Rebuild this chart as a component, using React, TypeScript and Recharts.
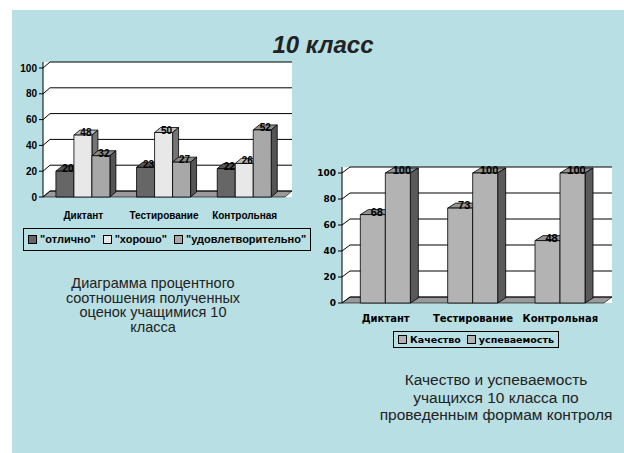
import React from "react";
import {
  BarChart,
  Bar,
  XAxis,
  YAxis,
  CartesianGrid,
  Legend,
  LabelList,
} from "recharts";

const CATEGORIES = ["Диктант", "Тестирование", "Контрольная"];
const EXCELLENT = [20, 23, 22];
const GOOD = [48, 50, 26];
const SATISFACTORY = [32, 27, 52];
const QUALITY = [68, 73, 48];
const PROGRESS = [100, 100, 100];
const Y_TICKS = [0, 20, 40, 60, 80, 100];

const gradesData = CATEGORIES.map((name, i) => ({
  name,
  excellent: EXCELLENT[i],
  good: GOOD[i],
  satisfactory: SATISFACTORY[i],
}));

const qualityData = CATEGORIES.map((name, i) => ({
  name,
  quality: QUALITY[i],
  progress: PROGRESS[i],
}));

const ARIAL = "'Liberation Sans', Arial, sans-serif";
const VERDANA = "'DejaVu Sans', Verdana, sans-serif";

function shade(hex: string, k: number) {
  const n = parseInt(hex.slice(1), 16);
  const r = Math.round(((n >> 16) & 255) * k);
  const g = Math.round(((n >> 8) & 255) * k);
  const b = Math.round((n & 255) * k);
  return `rgb(${r},${g},${b})`;
}

// 3d-ish column: front face, top and right side
function Box3D(props: any) {
  const { x, y, width, height, fill, dx, dy } = props;
  if (height <= 0) return null;
  return (
    <g stroke="#000" strokeWidth={0.8} strokeLinejoin="round">
      <polygon
        points={`${x},${y} ${x + dx},${y - dy} ${x + width + dx},${y - dy} ${x + width},${y}`}
        fill={shade(fill, 0.82)}
      />
      <polygon
        points={`${x + width},${y} ${x + width + dx},${y - dy} ${x + width + dx},${y + height - dy} ${x + width},${y + height}`}
        fill={shade(fill, 0.5)}
      />
      <rect x={x} y={y} width={width} height={height} fill={fill} />
    </g>
  );
}

// grid lines on the back wall plus the floor under the bottom one
function makeWallLine(dx: number, dy: number, top: number, bottom: number) {
  return (p: any) => {
    const { x1, y1, x2 } = p;
    if (y1 < top - 0.5) return <g key={`skip-${p.index}`} />;
    const isFloor = Math.abs(y1 - bottom) < 0.6;
    return (
      <g key={`wall-${p.index}-${y1}`}>
        {isFloor && (
          <polygon
            points={`${x1},${y1} ${x2 - dx},${y1} ${x2},${y1 - dy} ${x1 + dx},${y1 - dy}`}
            fill="#9a9a9a"
            stroke="#000"
            strokeWidth={0.6}
          />
        )}
        <polyline
          points={`${x1},${y1} ${x1 + dx},${y1 - dy} ${x2},${y1 - dy}`}
          fill="none"
          stroke="#000"
          strokeWidth={1}
        />
      </g>
    );
  };
}

function makeValueLabel(dx: number, fontSize: number) {
  return (p: any) => {
    const { x, y, width, value } = p;
    return (
      <text
        x={x + width / 2 + dx / 2}
        y={y + 1}
        textAnchor="middle"
        fontFamily={ARIAL}
        fontWeight="bold"
        fontSize={fontSize}
        fill="#000"
      >
        {value}
      </text>
    );
  };
}

function makeLegend(order: string[], fontFamily: string, fontSize: number, gap: number, padV: number) {
  return (p: any) => {
    const items = (p.payload || [])
      .slice()
      .sort((a: any, b: any) => order.indexOf(a.dataKey) - order.indexOf(b.dataKey));
    return (
      <div
        style={{
          display: "inline-flex",
          alignItems: "center",
          border: "1px solid #000",
          padding: `${padV}px 4px`,
          fontFamily,
          fontSize,
          fontWeight: "bold",
          color: "#000",
          whiteSpace: "nowrap",
          lineHeight: 1,
        }}
      >
        {items.map((e: any, i: number) => (
          <span
            key={i}
            style={{ display: "inline-flex", alignItems: "center", marginLeft: i ? gap : 0 }}
          >
            <span
              style={{
                width: 7,
                height: 7,
                background: e.color,
                border: "1px solid #000",
                marginRight: 3,
              }}
            />
            {e.value}
          </span>
        ))}
      </div>
    );
  };
}

const C1 = { w: 310, h: 210, top: 12, right: 18, left: 3, bottom: 43, yw: 40, xh: 20, dx: 7, dy: 6 };
const C1_BOTTOM = C1.h - C1.bottom - C1.xh;

const C2 = { w: 324, h: 200, top: 12, right: 12, left: 6, bottom: 32, yw: 36, xh: 20, dx: 8, dy: 6 };
const C2_BOTTOM = C2.h - C2.bottom - C2.xh;

function GradesChart() {
  return (
    <BarChart
      width={C1.w}
      height={C1.h}
      data={gradesData}
      margin={{ top: C1.top, right: C1.right, left: C1.left, bottom: C1.bottom }}
      barCategoryGap="16%"
      barGap={0}
    >
      <CartesianGrid
        vertical={false}
        fill="#fff"
        horizontal={makeWallLine(C1.dx, C1.dy, C1.top + C1.dy, C1_BOTTOM)}
      />
      <XAxis
        dataKey="name"
        height={C1.xh}
        axisLine={false}
        tickLine={false}
        tickMargin={9}
        padding={{ right: C1.dx }}
        tick={{ fontFamily: ARIAL, fontSize: 10, fontWeight: "bold", fill: "#000" }}
      />
      <YAxis
        width={C1.yw}
        domain={[0, 100]}
        ticks={Y_TICKS}
        padding={{ top: C1.dy }}
        axisLine={{ stroke: "#000" }}
        tickLine={{ stroke: "#000" }}
        tickSize={4}
        tick={{ fontFamily: ARIAL, fontSize: 10, fontWeight: "bold", fill: "#000" }}
      />
      <Legend
        layout="horizontal"
        verticalAlign="middle"
        align="center"
        wrapperStyle={{ top: 178, left: 23, width: "auto" }}
        content={makeLegend(["excellent", "good", "satisfactory"], ARIAL, 11, 7, 5)}
      />
      <Bar
        dataKey="excellent"
        name={'"отлично"'}
        fill="#666666"
        isAnimationActive={false}
        shape={(p: any) => <Box3D {...p} dx={C1.dx - 1} dy={C1.dy - 1} />}
      >
        <LabelList dataKey="excellent" content={makeValueLabel(C1.dx - 1, 10)} />
      </Bar>
      <Bar
        dataKey="good"
        name={'"хорошо"'}
        fill="#e8e8e8"
        isAnimationActive={false}
        shape={(p: any) => <Box3D {...p} dx={C1.dx - 1} dy={C1.dy - 1} />}
      >
        <LabelList dataKey="good" content={makeValueLabel(C1.dx - 1, 10)} />
      </Bar>
      <Bar
        dataKey="satisfactory"
        name={'"удовлетворительно"'}
        fill="#a8a8a8"
        isAnimationActive={false}
        shape={(p: any) => <Box3D {...p} dx={C1.dx - 1} dy={C1.dy - 1} />}
      >
        <LabelList dataKey="satisfactory" content={makeValueLabel(C1.dx - 1, 10)} />
      </Bar>
    </BarChart>
  );
}

function QualityChart() {
  return (
    <BarChart
      width={C2.w}
      height={C2.h}
      data={qualityData}
      margin={{ top: C2.top, right: C2.right, left: C2.left, bottom: C2.bottom }}
      barCategoryGap="21%"
      barGap={0}
    >
      <CartesianGrid
        vertical={false}
        fill="#fff"
        horizontal={makeWallLine(C2.dx, C2.dy, C2.top + C2.dy, C2_BOTTOM)}
      />
      <XAxis
        dataKey="name"
        height={C2.xh}
        axisLine={false}
        tickLine={false}
        tickMargin={6}
        padding={{ right: C2.dx }}
        tick={{ fontFamily: VERDANA, fontSize: 10, fontWeight: "bold", fill: "#000" }}
      />
      <YAxis
        width={C2.yw}
        domain={[0, 100]}
        ticks={Y_TICKS}
        padding={{ top: C2.dy }}
        axisLine={{ stroke: "#000" }}
        tickLine={{ stroke: "#000" }}
        tickSize={4}
        tick={{ fontFamily: VERDANA, fontSize: 9, fontWeight: "bold", fill: "#000" }}
      />
      <Legend
        layout="horizontal"
        verticalAlign="middle"
        align="center"
        wrapperStyle={{ top: 175, left: 93, width: "auto" }}
        content={makeLegend(["quality", "progress"], VERDANA, 9.5, 6, 3)}
      />
      <Bar
        dataKey="quality"
        name="Качество"
        fill="#b3b3b3"
        isAnimationActive={false}
        shape={(p: any) => <Box3D {...p} dx={C2.dx} dy={C2.dy - 1} />}
      >
        <LabelList dataKey="quality" content={makeValueLabel(C2.dx, 11)} />
      </Bar>
      <Bar
        dataKey="progress"
        name="успеваемость"
        fill="#b3b3b3"
        isAnimationActive={false}
        shape={(p: any) => <Box3D {...p} dx={C2.dx} dy={C2.dy - 1} />}
      >
        <LabelList dataKey="progress" content={makeValueLabel(C2.dx, 11)} />
      </Bar>
    </BarChart>
  );
}

export default function App() {
  return (
    <div
      style={{
        position: "absolute",
        left: 0,
        top: 0,
        width: 624,
        height: 453,
        background: "#fff",
        overflow: "hidden",
        fontFamily: ARIAL,
      }}
    >
      <div
        style={{
          position: "absolute",
          left: 12,
          top: 10,
          right: 0,
          bottom: 0,
          background: "#b8dfe3",
        }}
      />
      <div
        style={{
          position: "absolute",
          left: 223,
          top: 31,
          width: 200,
          textAlign: "center",
          fontSize: 24,
          lineHeight: "28px",
          fontWeight: "bold",
          fontStyle: "italic",
          color: "#222",
        }}
      >
        10 класс
      </div>
      <div style={{ position: "absolute", left: 0, top: 50 }}>
        <GradesChart />
      </div>
      <div style={{ position: "absolute", left: 300, top: 155 }}>
        <QualityChart />
      </div>
      <div
        style={{
          position: "absolute",
          left: 33,
          top: 276,
          width: 240,
          textAlign: "center",
          fontSize: 14.5,
          lineHeight: "14.5px",
          color: "#222",
        }}
      >
        Диаграмма процентного
        <br />
        соотношения полученных
        <br />
        оценок учащимися 10
        <br />
        класса
      </div>
      <div
        style={{
          position: "absolute",
          left: 366,
          top: 371,
          width: 260,
          textAlign: "center",
          fontSize: 15.5,
          lineHeight: "17.5px",
          color: "#222",
        }}
      >
        Качество и успеваемость
        <br />
        учащихся 10 класса по
        <br />
        проведенным формам контроля
      </div>
    </div>
  );
}
